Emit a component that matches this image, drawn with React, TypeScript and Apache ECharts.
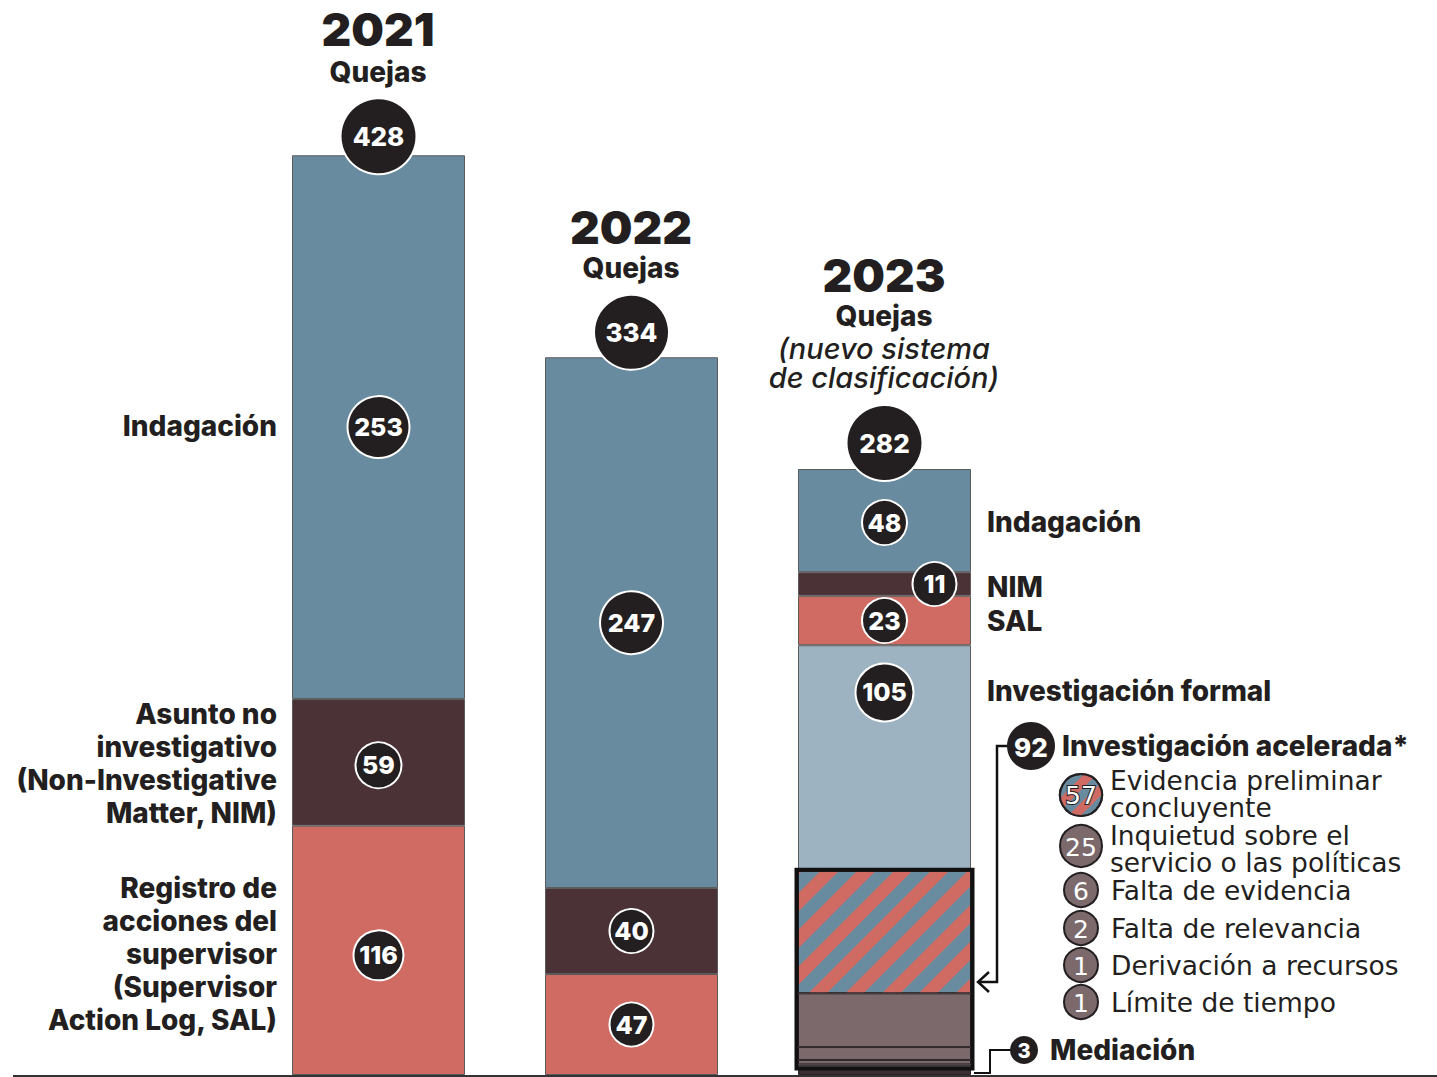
import React, { useEffect, useRef } from "react";
import * as echarts from "echarts";

const categories = ["2021", "2022", "2023"];
const totals = [428, 334, 282];
const indagacion = [253, 247, 48];
const nim = [59, 40, 11];
const sal = [116, 47, 23];
const formal = [null, null, 105];
const evidPrelim = [null, null, 57];
const inquietud = [null, null, 25];
const faltaEvid = [null, null, 6];
const faltaRel = [null, null, 2];
const derivacion = [null, null, 1];
const limite = [null, null, 1];
const mediacion = [null, null, 3];
const acelerada = 92;

const BLUE = "#688ba0";
const NIM_C = "#4b3237";
const SAL_C = "#cf6b62";
const FORMAL_C = "#9db3c1";
const MAUVE = "#7b696c";
const MED_C = "#3a3032";
const DARK = "#231f20";
const FONT = "Inter, 'Open Sans', sans-serif";
const FONT_REG = "'DejaVu Sans', sans-serif";

type Seg = { name: string; data: (number | null)[]; color: string; border: string; decal?: any };

const segs: Seg[] = [
  { name: "Mediación", data: mediacion, color: MED_C, border: "#2b2325" },
  { name: "Límite de tiempo", data: limite, color: MAUVE, border: "#2b2325" },
  { name: "Derivación a recursos", data: derivacion, color: MAUVE, border: "#2b2325" },
  { name: "Falta de relevancia", data: faltaRel, color: MAUVE, border: "#2b2325" },
  { name: "Falta de evidencia", data: faltaEvid, color: MAUVE, border: "#2b2325" },
  { name: "Inquietud", data: inquietud, color: MAUVE, border: "#2b2325" },
  {
    name: "Evidencia preliminar",
    data: evidPrelim,
    color: BLUE,
    border: "#2b2325",
    decal: { symbol: "rect", symbolSize: 1, color: SAL_C, dashArrayX: [1, 0], dashArrayY: [13, 13], rotation: -Math.PI / 4 },
  },
  { name: "Investigación formal", data: formal, color: FORMAL_C, border: "#5a5a5a" },
  { name: "SAL", data: sal, color: SAL_C, border: "#5a5a5a" },
  { name: "NIM", data: nim, color: NIM_C, border: "#5a5a5a" },
  { name: "Indagación", data: indagacion, color: BLUE, border: "#5a5a5a" },
];

function bottomOf(idx: number, cat: number) {
  let s = 0;
  for (let i = 0; i < idx; i++) s += segs[i].data[cat] || 0;
  return s;
}
function midOf(idx: number, cat: number) {
  return bottomOf(idx, cat) + (segs[idx].data[cat] || 0) / 2;
}

const iSAL = 8, iNIM = 9, iIND = 10, iFOR = 7;

function circle(cat: number, y: number, txt: string, size: number, off: [number, number] = [0, 0], fs = 25) {
  return {
    value: [cat, y],
    txt,
    symbolSize: size,
    symbolOffset: off,
    label: { fontSize: fs },
  };
}

const circleData = [
  circle(0, totals[0], String(totals[0]), 76, [0, -19], 26),
  circle(1, totals[1], String(totals[1]), 75, [0, -25], 26),
  circle(2, totals[2], String(totals[2]), 76, [0, -26], 26),
  circle(0, midOf(iIND, 0), String(indagacion[0]), 62),
  circle(0, midOf(iNIM, 0), String(nim[0]), 46, [0, 3]),
  circle(0, midOf(iSAL, 0), String(sal[0]), 50, [0, 5]),
  circle(1, midOf(iIND, 1), String(indagacion[1]), 63),
  circle(1, midOf(iNIM, 1), String(nim[1]), 44),
  circle(1, midOf(iSAL, 1), String(sal[1]), 44),
  circle(2, midOf(iIND, 2), String(indagacion[2]), 45, [0, 2]),
  circle(2, midOf(iNIM, 2), String(nim[2]), 44, [50, 0]),
  circle(2, midOf(iSAL, 2), String(sal[2]), 45),
  circle(2, bottomOf(iFOR, 2) + (formal[2] as number) - 22, String(formal[2]), 58),
];

const accelLow = mediacion[2] as number;
const accelHigh = accelLow + acelerada;

function txt(text: string, x: number, y: number, opts: any = {}) {
  return {
    type: "text",
    x,
    y,
    z: 10,
    style: {
      text,
      fill: DARK,
      fontFamily: opts.fontFamily || FONT,
      fontSize: opts.fontSize || 28,
      fontWeight: opts.fontWeight || 800,
      fontStyle: opts.fontStyle || "normal",
      align: opts.align || "left",
      verticalAlign: "middle",
      lineHeight: opts.lineHeight || 33,
    },
  };
}

function reg(text: string, x: number, y: number) {
  return txt(text, x, y, { fontFamily: FONT_REG, fontWeight: "normal", fontSize: 26.5, lineHeight: 26.5 });
}

function legCircle(cx: number, cy: number, r: number, label: string, opts: any = {}) {
  return [
    {
      type: "circle",
      z: 10,
      shape: { cx, cy, r },
      style: { fill: opts.fill || MAUVE, stroke: opts.stroke || DARK, lineWidth: opts.lw ?? 2 },
    },
    {
      type: "text",
      x: cx + (opts.dx || 0),
      y: cy + 1,
      z: 11,
      style: {
        text: label,
        fill: "#fff",
        fontFamily: opts.fontFamily || FONT_REG,
        fontSize: opts.fontSize || 25,
        fontWeight: opts.fontWeight || "normal",
        align: "center",
        verticalAlign: "middle",
      },
    },
  ];
}

export default function App() {
  const ref = useRef<HTMLDivElement>(null);
  useEffect(() => {
    if (!ref.current) return;
    const chart = echarts.init(ref.current, null, { renderer: "svg" });
    const barSeries = segs.map((s) => ({
      type: "bar",
      name: s.name,
      stack: "all",
      data: s.data,
      barWidth: 173,
      itemStyle: { color: s.color, borderColor: s.border, borderWidth: 1, decal: s.decal },
      emphasis: { disabled: true },
    }));
    const option: any = {
      animation: false,
      grid: { left: 252, width: 759, top: 108, bottom: 2 },
      xAxis: { type: "category", data: categories, show: false },
      yAxis: { type: "value", min: 0, max: 450, show: false },
      series: [
        ...barSeries,
        {
          type: "custom",
          z: 5,
          data: [[2, accelLow, accelHigh]],
          renderItem: (params: any, api: any) => {
            const top = api.coord([api.value(0), api.value(2)]);
            const bot = api.coord([api.value(0), api.value(1)]);
            const w = 176;
            return {
              type: "rect",
              shape: { x: top[0] - w / 2, y: top[1] - 1, width: w, height: bot[1] - top[1] + 1 },
              style: { fill: "none", stroke: "#111", lineWidth: 4 },
            };
          },
        },
        {
          type: "scatter",
          z: 6,
          data: circleData,
          itemStyle: { color: DARK, borderColor: "#fff", borderWidth: 2, opacity: 1 },
          label: {
            show: true,
            position: "inside",
            color: "#fff",
            fontFamily: FONT,
            fontWeight: 800,
            formatter: (p: any) => p.data.txt,
          },
          emphasis: { disabled: true },
        },
        {
          type: "pie",
          center: [1081, 795],
          radius: [0, 21],
          z: 10,
          silent: true,
          data: [{ value: evidPrelim[2], name: "57" }],
          itemStyle: {
            color: BLUE,
            borderColor: DARK,
            borderWidth: 2,
            decal: { symbol: "rect", symbolSize: 1, color: SAL_C, dashArrayX: [1, 0], dashArrayY: [9, 9], rotation: -Math.PI / 4 },
          },
          label: {
            show: true,
            position: "center",
            formatter: String(evidPrelim[2]),
            color: "#fff",
            fontFamily: FONT_REG,
            fontSize: 25,
            textBorderColor: DARK,
            textBorderWidth: 2,
          },
          labelLine: { show: false },
        },
      ],
      graphic: [
        { type: "line", z: 12, shape: { x1: 13, y1: 1076, x2: 1437, y2: 1076 }, style: { stroke: "#333", lineWidth: 2 } },
        // year titles
        txt(categories[0], 378, 29, { fontSize: 46, fontWeight: 900, align: "center" }),
        txt("Quejas", 378, 72, { fontSize: 28, align: "center" }),
        txt(categories[1], 631, 227, { fontSize: 46, fontWeight: 900, align: "center" }),
        txt("Quejas", 631, 268, { fontSize: 28, align: "center" }),
        txt(categories[2], 884, 275, { fontSize: 46, fontWeight: 900, align: "center" }),
        txt("Quejas", 884, 316, { fontSize: 28, align: "center" }),
        txt("(nuevo sistema\nde clasificación)", 884, 363, { fontSize: 29, fontWeight: 500, fontStyle: "italic", align: "center", lineHeight: 29 }),
        // left labels
        txt("Indagación", 277, 426, { align: "right" }),
        txt("Asunto no\ninvestigativo\n(Non-Investigative\nMatter, NIM)", 277, 763.5, { align: "right" }),
        txt("Registro de\nacciones del\nsupervisor\n(Supervisor\nAction Log, SAL)", 277, 954, { align: "right" }),
        // right labels
        txt("Indagación", 987, 522),
        txt("NIM", 987, 587),
        txt("SAL", 987, 621),
        txt("Investigación formal", 987, 691),
        txt("Investigación acelerada*", 1062, 746),
        txt("Mediación", 1050, 1050),
        // connectors
        { type: "polyline", z: 9, shape: { points: [[1010, 746], [997, 746], [997, 982], [978, 982]] }, style: { stroke: "#111", lineWidth: 2.5, fill: "none" } },
        { type: "polyline", z: 9, shape: { points: [[989, 972], [978, 982], [989, 992]] }, style: { stroke: "#111", lineWidth: 2.5, fill: "none" } },
        { type: "polyline", z: 9, shape: { points: [[1012, 1050], [990, 1050], [990, 1073], [974, 1073]] }, style: { stroke: "#111", lineWidth: 2, fill: "none" } },
        ...legCircle(1031, 746, 24, String(acelerada), { fill: DARK, lw: 0, fontWeight: 800, fontFamily: FONT, fontSize: 26 }),
        ...legCircle(1024, 1050, 14, String(mediacion[2]), { fill: DARK, lw: 0, fontWeight: 800, fontFamily: FONT, fontSize: 20 }),
        ...legCircle(1081, 846, 21, String(inquietud[2])),
        ...legCircle(1081, 890, 17, String(faltaEvid[2])),
        ...legCircle(1081, 928, 17, String(faltaRel[2])),
        ...legCircle(1081, 965, 17, String(derivacion[2])),
        ...legCircle(1081, 1002, 17, String(limite[2])),
        reg("Evidencia preliminar\nconcluyente", 1110, 794),
        reg("Inquietud sobre el\nservicio o las políticas", 1110, 849),
        reg("Falta de evidencia", 1111, 890),
        reg("Falta de relevancia", 1111, 928),
        reg("Derivación a recursos", 1111, 965),
        reg("Límite de tiempo", 1111, 1002),
      ],
    };
    chart.setOption(option);
    return () => chart.dispose();
  }, []);
  return (
    <div
      ref={ref}
      style={{ position: "absolute", left: 0, top: 0, width: 1437, height: 1077, background: "#fff" }}
    />
  );
}
